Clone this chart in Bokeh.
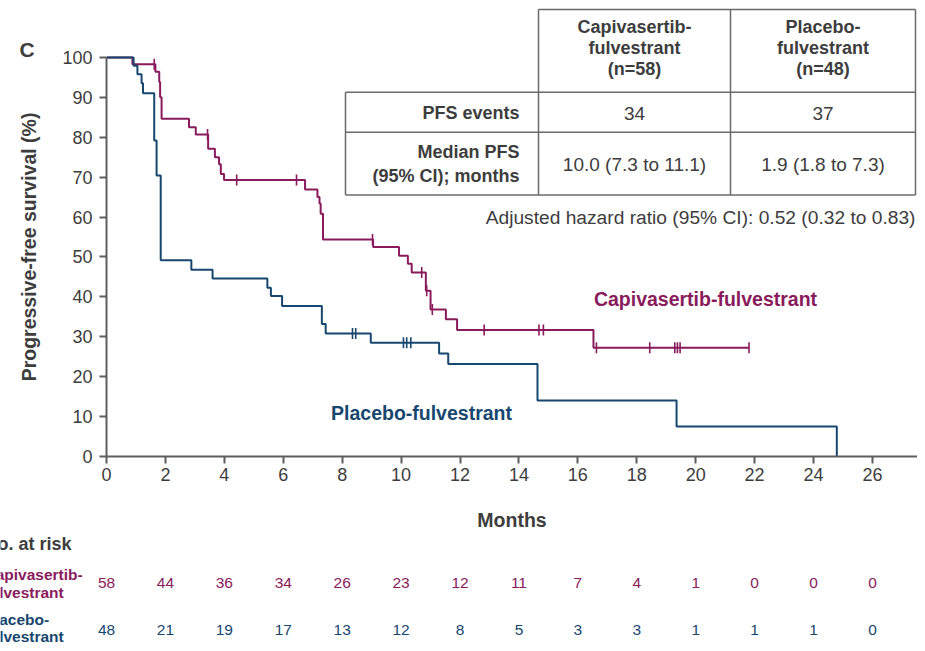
import numpy as np
from bokeh.plotting import figure
from bokeh.layouts import column, row
from bokeh.models import Range1d, FixedTicker
from bokeh.core.properties import value
from bokeh.embed import file_html
from bokeh.resources import INLINE

# ---------------- data ----------------
cap_times = [0, 0.88, 1.66, 1.79, 1.82, 1.87, 2.80, 3.03, 3.45, 3.68, 3.82, 3.88, 3.99,
             6.74, 7.16, 7.23, 7.27, 7.35, 9.05, 9.93, 10.23, 10.36, 10.84, 11.00,
             11.52, 11.90, 16.53]
cap_surv = [100, 98.3, 96.4, 93.8, 90.0, 84.6, 82.5, 80.7, 77.1, 75.0, 73.2, 70.8, 69.3,
            66.9, 65.0, 63.4, 60.8, 54.4, 52.5, 50.3, 48.3, 46.1, 41.5, 36.8,
            34.4, 31.7, 27.25]
cap_end = 21.81
cap_censor = [1.62, 3.43, 4.42, 6.45, 9.03, 10.70, 10.87, 11.06, 12.82, 14.68, 14.83,
              16.63, 18.44, 19.29, 19.38, 19.47, 21.81]

pla_times = [0, 0.92, 1.05, 1.19, 1.24, 1.62, 1.70, 1.84, 2.88, 3.60, 5.46, 5.58, 5.96,
             7.31, 7.44, 8.97, 11.29, 11.60, 14.63, 19.35, 24.79]
pla_surv = [100, 97.9, 95.8, 93.5, 91.0, 79.2, 70.4, 49.2, 46.8, 44.6, 42.3, 40.2, 37.7,
            33.2, 30.8, 28.5, 25.8, 23.2, 14.0, 7.5, 0]
pla_censor = [8.35, 8.46, 10.08, 10.19, 10.33]

risk_months = list(range(0, 27, 2))
cap_risk = [58, 44, 36, 34, 26, 23, 12, 11, 7, 4, 1, 0, 0, 0]
pla_risk = [48, 21, 19, 17, 13, 12, 8, 5, 3, 3, 1, 1, 1, 0]

x_ticks = list(range(0, 27, 2))
y_ticks = list(range(0, 101, 10))

table_header = [["Capivasertib-", "fulvestrant", "(n=58)"], ["Placebo-", "fulvestrant", "(n=48)"]]
pfs_events = ["34", "37"]
median_pfs = ["10.0 (7.3 to 11.1)", "1.9 (1.8 to 7.3)"]
hr_text = "Adjusted hazard ratio (95% CI): 0.52 (0.32 to 0.83)"

# ---------------- style / layout ----------------
PURPLE = "#891b5c"
BLUE = "#17476e"
TXT = "#3d3d3d"
AXC = "#5e5e5e"
FONT = "Liberation Sans"

TOTAL_W = 917
TOTAL_H = 643
LEFT_W = 45            # strip holding panel letter and y title
MAIN_W = TOTAL_W - LEFT_W
MAIN_H = 533
BOT_H = TOTAL_H - MAIN_H
FRAME_L = 106          # page x of the y axis
AXIS_Y = 457           # page y of the x axis
PX_X = 29.46           # px per month
PX_Y = 4.0             # px per percent

def X(px):             # page px -> months
    return (px - FRAME_L) / PX_X

def Y(py):             # page px -> percent
    return (AXIS_Y - py) / PX_Y

# ---------------- main figure ----------------
p = figure(width=MAIN_W, height=MAIN_H, output_backend="svg", toolbar_location=None,
           x_range=Range1d(0, X(TOTAL_W)), y_range=Range1d(0, Y(0)),
           min_border_left=FRAME_L - LEFT_W, min_border_bottom=MAIN_H - AXIS_Y,
           min_border_top=0, min_border_right=0)
p.outline_line_color = None
p.grid.visible = False

for ax in (p.xaxis[0], p.yaxis[0]):
    ax.axis_line_color = AXC
    ax.axis_line_width = 2
    ax.major_tick_line_color = AXC
    ax.major_tick_line_width = 2
    ax.major_tick_out = 7
    ax.major_tick_in = 0
    ax.minor_tick_line_color = None
    ax.major_label_text_font = FONT
    ax.major_label_text_font_size = "18px"
    ax.major_label_text_color = TXT
    ax.axis_label_text_font = FONT
    ax.axis_label_text_font_size = "19.5px"
    ax.axis_label_text_font_style = "bold"
    ax.axis_label_text_color = TXT

p.xaxis.ticker = FixedTicker(ticks=x_ticks)
p.yaxis.ticker = FixedTicker(ticks=y_ticks)
p.yaxis.bounds = (0, 100)
p.xaxis.axis_label = "Months"
p.xaxis.major_label_standoff = 4
p.xaxis.axis_label_standoff = 25
p.yaxis.major_label_standoff = 7

def level_at(times, surv, t):
    i = np.searchsorted(times, t, side="right") - 1
    return surv[i]

cx = cap_times + [cap_end]
cy = cap_surv + [cap_surv[-1]]
p.step(cx, cy, mode="after", line_color=PURPLE, line_width=2)
p.step(pla_times, pla_surv, mode="after", line_color=BLUE, line_width=2)
p.scatter(cap_censor, [level_at(cap_times, cap_surv, t) for t in cap_censor],
          marker="dash", angle=np.pi / 2, size=11, line_color=PURPLE, line_width=1.6)
p.scatter(pla_censor, [level_at(pla_times, pla_surv, t) for t in pla_censor],
          marker="dash", angle=np.pi / 2, size=11, line_color=BLUE, line_width=1.6)

def txt(fig, x, y, text, size="18px", style="normal", color=TXT, align="center", angle=0):
    fig.text(x=[x], y=[y], text=[text], text_font=value(FONT), text_font_size=size,
             text_font_style=style, text_color=color, text_align=align,
             text_baseline="middle", angle=angle)

# curve labels
txt(p, X(705), Y(299), "Capivasertib-fulvestrant", "19.5px", "bold", PURPLE)
txt(p, X(421), Y(413), "Placebo-fulvestrant", "19.5px", "bold", BLUE)

# table
tl = dict(line_color="#6a6a6a", line_width=1.5)
c0, c1, c2, c3 = 345, 538, 730, 915
r0, r1, r2, r3 = 9, 92, 132, 195
p.segment(X(c1), Y(r0), X(c3), Y(r0), **tl)
for r in (r1, r2, r3):
    p.segment(X(c0), Y(r), X(c3), Y(r), **tl)
for c in (c1, c2, c3):
    p.segment(X(c), Y(r0), X(c), Y(r3), **tl)
p.segment(X(c0), Y(r1), X(c0), Y(r3), **tl)

for ci, col in enumerate(((c1 + c2) / 2, (c2 + c3) / 2)):
    for li, ly in enumerate((27, 48, 69)):
        txt(p, X(col), Y(ly), table_header[ci][li], "18px", "bold")
    txt(p, X(col), Y(113), pfs_events[ci], "19px")
    txt(p, X(col), Y(164), median_pfs[ci], "19px")
txt(p, X(519), Y(113), "PFS events", "18px", "bold", TXT, "right")
txt(p, X(519), Y(152), "Median PFS", "18px", "bold", TXT, "right")
txt(p, X(519), Y(176), "(95% CI); months", "18px", "bold", TXT, "right")
txt(p, X(915), Y(217), hr_text, "19.2px", "normal", TXT, "right")

# ---------------- left strip: panel letter + y title ----------------
# (its frame is aligned with the main frame, i.e. page y 0 .. AXIS_Y)
lf = figure(width=LEFT_W, height=MAIN_H, output_backend="svg", toolbar_location=None,
            x_range=Range1d(0, LEFT_W), y_range=Range1d(AXIS_Y, 0),
            x_axis_location=None, y_axis_location=None,
            min_border=0, min_border_left=0, min_border_right=0,
            min_border_top=0, min_border_bottom=MAIN_H - AXIS_Y)
lf.outline_line_color = None
lf.grid.visible = False
txt(lf, 19, 49, "C", "21px", "bold", TXT, "left")
txt(lf, 28, 247, "Progressive-free survival (%)", "19.5px", "bold", TXT, "center", np.pi / 2)

# ---------------- bottom strip: number at risk ----------------
bf = figure(width=TOTAL_W, height=BOT_H, output_backend="svg", toolbar_location=None,
            x_range=Range1d(X(0), X(TOTAL_W)), y_range=Range1d(TOTAL_H, MAIN_H),
            x_axis_location=None, y_axis_location=None,
            min_border=0, min_border_left=0, min_border_right=0,
            min_border_top=0, min_border_bottom=0)
bf.outline_line_color = None
bf.grid.visible = False
txt(bf, X(-16), 543, "No. at risk", "18px", "bold", TXT, "left")
txt(bf, X(-16), 574, "Capivasertib-", "15.5px", "bold", PURPLE, "left")
txt(bf, X(-16), 592, "fulvestrant", "15.5px", "bold", PURPLE, "left")
txt(bf, X(-16), 619, "Placebo-", "15.5px", "bold", BLUE, "left")
txt(bf, X(-16), 636, "fulvestrant", "15.5px", "bold", BLUE, "left")
bf.text(x=risk_months, y=[582] * len(risk_months), text=[str(v) for v in cap_risk],
        text_font=value(FONT), text_font_size="15.5px", text_color=PURPLE,
        text_align="center", text_baseline="middle")
bf.text(x=risk_months, y=[629] * len(risk_months), text=[str(v) for v in pla_risk],
        text_font=value(FONT), text_font_size="15.5px", text_color=BLUE,
        text_align="center", text_baseline="middle")

layout = column(row(lf, p, spacing=0), bf, spacing=0)
open("out.html", "w").write(file_html(layout, INLINE))
